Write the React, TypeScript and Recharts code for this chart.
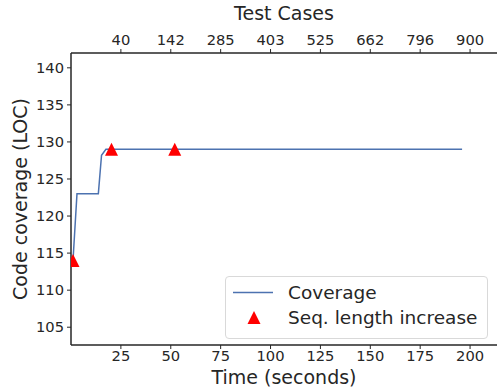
import { ComposedChart, Line, Scatter, XAxis, YAxis } from 'recharts';

// bottom axis: time in seconds; top axis shows number of test cases at same positions
const timeTicks = [25, 50, 75, 100, 125, 150, 175, 200];
const testCaseLabels = ['40', '142', '285', '403', '525', '662', '796', '900'];
const coverageTicks = [105, 110, 115, 120, 125, 130, 135, 140];

const coverage = [
  { t: 1, loc: 114 },
  { t: 3, loc: 123 },
  { t: 13.7, loc: 123 },
  { t: 15.3, loc: 128.2 },
  { t: 17.5, loc: 129 },
  { t: 196, loc: 129 },
];

const seqIncrease = [
  { t: 1, loc: 114 },
  { t: 20.3, loc: 129 },
  { t: 52, loc: 129 },
];

const LINE = '#4c72b0';
const MARK = '#ff0000';
const AXIS = '#262626';
const FONT = 'DejaVu Sans';

const Triangle = (props: any) => {
  const { cx, cy } = props;
  const h = 6.5;
  return <polygon points={`${cx},${cy - h} ${cx - h},${cy + h} ${cx + h},${cy + h}`} fill={MARK} />;
};

const LegendBox = () => (
  <div
    style={{
      position: 'absolute',
      left: 225,
      top: 276,
      width: 261,
      height: 58,
      border: '1px solid #d9d9d9',
      borderRadius: 4,
      background: 'rgba(255,255,255,0.85)',
      fontFamily: FONT,
      fontSize: 18.5,
      color: AXIS,
      paddingTop: 3,
      boxSizing: 'content-box',
    }}
  >
    <div style={{ display: 'flex', alignItems: 'center', height: 25 }}>
      <svg width={62} height={25}>
        <line x1={7} x2={47} y1={12.5} y2={12.5} stroke={LINE} strokeWidth={1.5} />
      </svg>
      <span>Coverage</span>
    </div>
    <div style={{ display: 'flex', alignItems: 'center', height: 25 }}>
      <svg width={62} height={25}>
        <polygon points="28,6 21.5,19 34.5,19" fill={MARK} />
      </svg>
      <span>Seq. length increase</span>
    </div>
  </div>
);

export default function App() {
  const tickStyle = { fontSize: 14.7, fill: AXIS, fontFamily: FONT };
  const titleStyle = { fontSize: 19, fill: AXIS, fontFamily: FONT };
  return (
    <div style={{ position: 'absolute', left: 0, top: 0, width: 497, height: 390, background: '#fff' }}>
      <ComposedChart width={497} height={390} margin={{ top: 0, right: 0, bottom: 0, left: 0 }}>
        <XAxis
          xAxisId="time"
          dataKey="t"
          type="number"
          domain={[0, 213.5]}
          allowDataOverflow
          ticks={timeTicks}
          orientation="bottom"
          height={45}
          tick={tickStyle}
          tickSize={4}
          tickMargin={2}
          stroke={AXIS}
          axisLine={{ stroke: AXIS, strokeWidth: 1.5 }}
          label={{ value: 'Time (seconds)', position: 'insideBottom', offset: 6, style: titleStyle }}
        />
        <XAxis
          xAxisId="cases"
          dataKey="t"
          type="number"
          domain={[0, 213.5]}
          allowDataOverflow
          ticks={timeTicks}
          tickFormatter={(v: number) => testCaseLabels[timeTicks.indexOf(v)] ?? ''}
          orientation="top"
          height={53}
          tick={tickStyle}
          tickSize={4}
          tickMargin={4}
          stroke={AXIS}
          axisLine={{ stroke: AXIS, strokeWidth: 1.5 }}
          label={{ value: 'Test Cases', position: 'insideTop', offset: 7, style: titleStyle }}
        />
        <YAxis
          yAxisId="loc"
          dataKey="loc"
          type="number"
          domain={[102.6, 142]}
          allowDataOverflow
          ticks={coverageTicks}
          width={71}
          tick={tickStyle}
          tickSize={4}
          tickMargin={3}
          stroke={AXIS}
          axisLine={{ stroke: AXIS, strokeWidth: 1.5 }}
          label={{
            value: 'Code coverage (LOC)',
            angle: -90,
            position: 'insideLeft',
            offset: 20,
            style: { ...titleStyle, textAnchor: 'middle' },
          }}
        />
        <Line
          xAxisId="time"
          yAxisId="loc"
          data={coverage}
          dataKey="loc"
          type="linear"
          stroke={LINE}
          strokeWidth={1.5}
          dot={false}
          activeDot={false}
          isAnimationActive={false}
        />
        <Scatter
          xAxisId="time"
          yAxisId="loc"
          data={seqIncrease}
          dataKey="loc"
          fill={MARK}
          shape={<Triangle />}
          isAnimationActive={false}
        />
      </ComposedChart>
      <LegendBox />
    </div>
  );
}
